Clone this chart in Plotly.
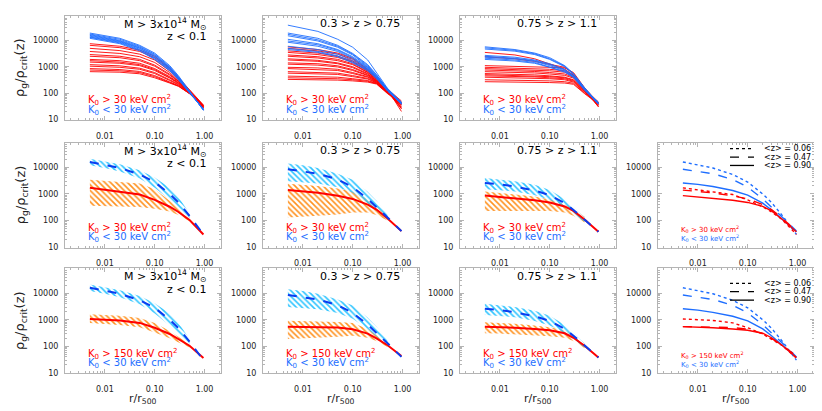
import plotly.graph_objects as go

W, H = 822, 411

R_PROF = [0.005, 0.02, 0.05, 0.1, 0.2, 0.3, 0.5, 0.95]
R_MEAN = [0.005, 0.01, 0.02, 0.05, 0.1, 0.2, 0.3, 0.5, 0.95]
R_BAND = [0.005, 0.01, 0.02, 0.05, 0.1, 0.2, 0.3, 0.5]

# ---- top row: individual cluster profiles ----
LOWZ_COOL = [
    [19000, 12000, 6500, 3300, 1100, 450, 120, 22],
    [17500, 11000, 6000, 3000, 1000, 420, 115, 22],
    [16500, 10000, 5600, 2800, 950, 400, 115, 23],
    [15500, 9500, 5200, 2600, 900, 380, 110, 23],
    [14500, 9000, 5000, 2400, 850, 360, 110, 24],
    [13500, 8500, 4600, 2200, 800, 340, 105, 24],
    [13000, 8000, 4300, 2000, 750, 330, 105, 25],
    [12000, 7500, 4000, 1900, 700, 320, 100, 25],
]
LOWZ_HOT = [
    [7500, 6000, 4300, 2500, 900, 380, 125, 35],
    [6500, 5300, 3800, 2200, 820, 360, 125, 34],
    [5000, 4100, 3000, 1800, 700, 320, 120, 33],
    [3800, 3200, 2400, 1450, 600, 300, 115, 32],
    [2900, 2500, 1900, 1150, 520, 280, 112, 31],
    [2500, 2200, 1700, 1050, 480, 270, 110, 33],
    [1900, 1700, 1350, 850, 420, 250, 108, 32],
    [1700, 1500, 1200, 780, 390, 240, 105, 30],
    [1500, 1350, 1100, 720, 370, 230, 105, 31],
    [1200, 1080, 880, 600, 320, 215, 100, 30],
    [1050, 950, 800, 550, 300, 205, 100, 28],
    [850, 780, 660, 460, 265, 190, 96, 28],
    [750, 700, 600, 420, 250, 185, 95, 30],
    [650, 620, 540, 380, 240, 180, 95, 28],
]
MIDZ_COOL = [
    [38000, 22000, 11000, 5500, 1800, 600, 150, 45],
    [19000, 12000, 6500, 3200, 1200, 500, 140, 45],
    [17000, 10500, 6000, 3000, 1100, 480, 140, 42],
    [15000, 9500, 5500, 2800, 1000, 450, 135, 44],
    [11000, 7500, 4500, 2400, 950, 430, 130, 40],
    [9500, 6800, 4200, 2200, 900, 420, 130, 42],
    [8500, 6000, 3800, 2000, 850, 400, 125, 38],
    [6000, 4500, 3000, 1700, 800, 380, 125, 40],
    [5000, 3800, 2600, 1500, 750, 370, 120, 38],
    [4500, 3500, 2400, 1400, 700, 350, 120, 40],
]
MIDZ_HOT = [
    [5700, 4500, 3300, 2100, 800, 400, 140, 50],
    [5000, 4000, 3000, 1900, 750, 380, 135, 20],
    [4000, 3300, 2500, 1650, 700, 360, 130, 25],
    [3500, 2900, 2250, 1500, 670, 350, 130, 40],
    [2800, 2400, 1900, 1300, 620, 330, 125, 45],
    [2500, 2150, 1700, 1200, 600, 320, 120, 35],
    [2000, 1750, 1400, 1000, 550, 300, 118, 28],
    [1800, 1600, 1300, 920, 520, 295, 115, 40],
    [1400, 1300, 1080, 780, 480, 285, 112, 45],
    [1250, 1150, 980, 720, 460, 280, 110, 30],
    [950, 900, 800, 600, 420, 270, 108, 26],
    [850, 800, 720, 550, 400, 260, 105, 42],
    [650, 620, 570, 460, 360, 250, 102, 40],
    [570, 550, 510, 420, 340, 245, 100, 35],
    [440, 425, 400, 350, 300, 235, 98, 44],
    [380, 370, 350, 320, 280, 230, 98, 36],
    [330, 325, 310, 290, 260, 220, 95, 40],
]
HIGHZ_COOL = [
    [5700, 4500, 3300, 2200, 1100, 550, 160, 40],
    [5200, 4200, 3100, 2000, 1050, 520, 155, 42],
    [4700, 3900, 2900, 1900, 1000, 500, 150, 38],
    [2700, 2300, 1800, 1300, 800, 450, 140, 45],
    [2500, 2100, 1700, 1200, 750, 430, 140, 40],
    [2300, 2000, 1600, 1100, 700, 420, 135, 42],
    [2100, 1800, 1450, 1000, 650, 400, 130, 38],
    [1900, 1650, 1350, 950, 620, 390, 130, 40],
]
HIGHZ_HOT = [
    [3500, 2800, 2000, 1300, 800, 480, 150, 45],
    [2400, 2000, 1600, 1200, 950, 550, 150, 30],
    [1100, 1050, 1000, 950, 900, 600, 160, 40],
    [950, 900, 850, 800, 700, 480, 150, 35],
    [850, 800, 750, 700, 620, 450, 145, 42],
    [750, 710, 660, 600, 530, 400, 140, 32],
    [650, 620, 580, 530, 470, 370, 135, 45],
    [550, 520, 490, 450, 400, 320, 125, 30],
    [500, 475, 450, 420, 380, 300, 120, 40],
    [450, 430, 410, 380, 350, 280, 115, 36],
    [400, 385, 370, 350, 320, 260, 110, 44],
    [320, 315, 305, 290, 270, 235, 100, 40],
    [270, 265, 260, 250, 240, 215, 95, 38],
]

# ---- mean profiles (K0 < 30, shared by middle and bottom rows) ----
COOL_MEAN_LOWZ = [16000, 12500, 9500, 5400, 2800, 1000, 480, 150, 30]
COOL_MEAN_MIDZ = [8500, 7200, 5800, 3500, 1800, 650, 330, 130, 40]
COOL_MEAN_HIGHZ = [2600, 2300, 1900, 1350, 900, 450, 250, 110, 38]
COOL_UP_LOWZ = [21000, 16500, 13000, 7800, 4200, 1700, 750, 190]
COOL_LO_LOWZ = [12000, 9500, 7000, 3800, 1700, 600, 300, 120]
COOL_UP_MIDZ = [14000, 12000, 9500, 5800, 3400, 1200, 550, 170]
COOL_LO_MIDZ = [3000, 2800, 2500, 1800, 1100, 450, 250, 110]
COOL_UP_HIGHZ = [4000, 3500, 3000, 2200, 1400, 650, 330, 130]
COOL_LO_HIGHZ = [1500, 1400, 1250, 900, 600, 320, 190, 90]

# K0 > 30 keV cm^2 (middle row)
HOT30_MEAN_LOWZ = [1700, 1450, 1250, 950, 600, 330, 210, 105, 30]
HOT30_MEAN_MIDZ = [1400, 1250, 1100, 850, 650, 400, 260, 120, 40]
HOT30_MEAN_HIGHZ = [870, 780, 700, 580, 480, 340, 230, 110, 38]
HOT30_UP_LOWZ = [3400, 3000, 2800, 2500, 1500, 550, 280, 130]
HOT30_LO_LOWZ = [360, 350, 340, 320, 280, 220, 160, 95]
HOT30_UP_MIDZ = [2400, 2200, 2000, 1600, 1200, 650, 350, 140]
HOT30_LO_MIDZ = [130, 140, 150, 170, 200, 200, 160, 100]
HOT30_UP_HIGHZ = [1250, 1100, 1000, 800, 620, 420, 280, 140]
HOT30_LO_HIGHZ = [230, 230, 230, 230, 230, 200, 150, 85]

# K0 > 150 keV cm^2 (bottom row)
HOT150_MEAN_LOWZ = [1070, 1000, 940, 760, 500, 290, 190, 105, 36]
HOT150_MEAN_MIDZ = [550, 540, 530, 510, 440, 300, 200, 110, 43]
HOT150_MEAN_HIGHZ = [550, 530, 500, 450, 400, 310, 210, 105, 38]
HOT150_UP_LOWZ = [1600, 1500, 1400, 1150, 750, 380, 230, 120]
HOT150_LO_LOWZ = [750, 700, 640, 520, 330, 200, 140, 90]
HOT150_UP_MIDZ = [920, 900, 870, 820, 750, 450, 260, 125]
HOT150_LO_MIDZ = [190, 200, 210, 230, 250, 210, 160, 95]
HOT150_UP_HIGHZ = [800, 750, 700, 600, 520, 400, 260, 130]
HOT150_LO_HIGHZ = [310, 300, 280, 260, 240, 210, 160, 85]

Z_LABELS = ['&lt;z&gt; = 0.06', '&lt;z&gt; = 0.47', '&lt;z&gt; = 0.90']
X_TICKS = [0.01, 0.1, 1]
X_TICKTEXT = ['0.01', '0.10', '1.00']
Y_TICKS = [10, 100, 1000, 10000]
Y_TICKTEXT = ['10', '100', '1000', '10000']

RED = '#ff0000'
BLUE = '#1e6eff'
DBLUE = '#0a3cf0'
ORANGE = '#ff9220'
CYAN = '#2ec4ff'
FRAME = '#b4b4b4'
FONT = 'DejaVu Sans'

COL_X = [(57, 213), (255, 411), (452, 608), (650, 806)]
ROW_Y = [(8, 113), (136, 242), (263, 369)]
PANELS = [(0, 0), (0, 1), (0, 2), (1, 0), (1, 1), (1, 2), (1, 3),
          (2, 0), (2, 1), (2, 2), (2, 3)]


def px(x):
    return x / W


def py(y):
    return 1 - y / H


fig = go.Figure()
axis_id = {p: i + 1 for i, p in enumerate(PANELS)}


def add_line(panel, x, y, color, width=1, dash='solid'):
    k = axis_id[panel]
    fig.add_trace(go.Scatter(x=x, y=y, mode='lines', line=dict(color=color, width=width, dash=dash),
                             xaxis=f'x{k}', yaxis=f'y{k}', showlegend=False, hoverinfo='skip'))


def add_band(panel, upper, lower, color):
    k = axis_id[panel]
    fig.add_trace(go.Scatter(
        x=R_BAND + R_BAND[::-1], y=upper + lower[::-1], mode='lines', fill='toself',
        fillcolor=color, line=dict(width=0, color='rgba(0,0,0,0)'),
        fillpattern=dict(shape='\\', fgcolor=color, bgcolor='rgba(0,0,0,0)', fgopacity=1,
                         size=4, solidity=0.4),
        xaxis=f'x{k}', yaxis=f'y{k}', showlegend=False, hoverinfo='skip'))


# top row
for col, (hot, cool) in enumerate([(LOWZ_HOT, LOWZ_COOL), (MIDZ_HOT, MIDZ_COOL), (HIGHZ_HOT, HIGHZ_COOL)]):
    for prof in hot:
        add_line((0, col), R_PROF, prof, RED, width=0.9)
    for prof in cool:
        add_line((0, col), R_PROF, prof, BLUE, width=0.9)

cool_means = [COOL_MEAN_LOWZ, COOL_MEAN_MIDZ, COOL_MEAN_HIGHZ]
cool_bands = [(COOL_UP_LOWZ, COOL_LO_LOWZ), (COOL_UP_MIDZ, COOL_LO_MIDZ), (COOL_UP_HIGHZ, COOL_LO_HIGHZ)]
hot_means = {1: [HOT30_MEAN_LOWZ, HOT30_MEAN_MIDZ, HOT30_MEAN_HIGHZ],
             2: [HOT150_MEAN_LOWZ, HOT150_MEAN_MIDZ, HOT150_MEAN_HIGHZ]}
hot_bands = {1: [(HOT30_UP_LOWZ, HOT30_LO_LOWZ), (HOT30_UP_MIDZ, HOT30_LO_MIDZ), (HOT30_UP_HIGHZ, HOT30_LO_HIGHZ)],
             2: [(HOT150_UP_LOWZ, HOT150_LO_LOWZ), (HOT150_UP_MIDZ, HOT150_LO_MIDZ),
                 (HOT150_UP_HIGHZ, HOT150_LO_HIGHZ)]}
styles = ['dot', 'dash', 'solid']

for row in (1, 2):
    for col in range(3):
        add_band((row, col), *hot_bands[row][col], ORANGE)
        add_band((row, col), *cool_bands[col], CYAN)
        add_line((row, col), R_MEAN, hot_means[row][col], RED, width=2)
        add_line((row, col), R_MEAN, cool_means[col], DBLUE, width=2, dash='dash')
    for col in range(3):
        add_line((row, 3), R_MEAN, cool_means[col], BLUE, width=1.4, dash=styles[col])
    for col in range(3):
        add_line((row, 3), R_MEAN, hot_means[row][col], RED, width=1.4, dash=styles[col])

# axes
x_minor = [m * 10 ** e for e in (-3, -2, -1) for m in range(2, 10)] + [2]
y_minor = [m * 10 ** e for e in (1, 2, 3, 4) for m in range(2, 10)]
layout_axes = {}
for (row, col), k in axis_id.items():
    x0, x1 = COL_X[col]
    y0, y1 = ROW_Y[row]
    common = dict(type='log', showline=True, linecolor=FRAME, linewidth=1, mirror='ticks',
                  ticks='inside', ticklen=4, tickwidth=1, tickcolor=FRAME, showgrid=False,
                  zeroline=False, tickmode='array',
                  tickfont=dict(family=FONT, size=8, color='#222'))
    layout_axes[f'xaxis{k}'] = dict(common, domain=[px(x0), px(x1)], range=[-2.8, 0.33],
                                    anchor=f'y{k}', tickvals=X_TICKS, ticktext=X_TICKTEXT,
                                    ticklabelstandoff=8,
                                    minor=dict(ticks='inside', ticklen=2, tickcolor=FRAME,
                                               tickvals=x_minor, showgrid=False))
    layout_axes[f'yaxis{k}'] = dict(common, domain=[py(y1), py(y0)], range=[0.98, 4.93],
                                    anchor=f'x{k}', tickvals=Y_TICKS, ticktext=Y_TICKTEXT,
                                    ticklabelstandoff=4,
                                    minor=dict(ticks='inside', ticklen=2, tickcolor=FRAME,
                                               tickvals=y_minor, showgrid=False))

ann = []
shapes = []
titles = [['M &gt; 3x10<sup>14</sup> M<sub>⊙</sub>', 'z &lt; 0.1'], ['0.3 &gt; z &gt; 0.75'], ['0.75 &gt; z &gt; 1.1']]
for (row, col) in PANELS:
    x0, x1 = COL_X[col]
    y0, y1 = ROW_Y[row]
    if col < 3:
        t = titles[col]
        right = x1 - (13 if col == 0 else 17)
        for i, txt in enumerate(t):
            yy = y0 + 8 + 13 * i
            ann.append(dict(text=txt, x=px(right), y=py(yy), xref='paper', yref='paper',
                            xanchor='right', yanchor='middle', showarrow=False,
                            font=dict(family=FONT, size=11, color='black')))
    k0 = '150' if row == 2 else '30'
    small = col == 3
    fs = 7 if small else 10
    ann.append(dict(text=f'K<sub>0</sub> &gt; {k0} keV cm<sup>2</sup>', x=px(x0 + 21),
                    y=py(y1 - (19 if small else 20)),
                    xref='paper', yref='paper', xanchor='left', yanchor='middle', showarrow=False,
                    font=dict(family=FONT, size=fs, color=RED)))
    ann.append(dict(text='K<sub>0</sub> &lt; 30 keV cm<sup>2</sup>', x=px(x0 + 21),
                    y=py(y1 - (10 if small else 10.5)),
                    xref='paper', yref='paper', xanchor='left', yanchor='middle', showarrow=False,
                    font=dict(family=FONT, size=fs, color=BLUE)))
    if col == 3:
        first = 142 if row == 1 else 278
        for i, (lab, dsh) in enumerate(zip(Z_LABELS, styles)):
            yy = first + 8.5 * i
            shapes.append(dict(type='line', xref='paper', yref='paper', x0=px(722), x1=px(746),
                               y0=py(yy), y1=py(yy), line=dict(color='black', width=1.3, dash=dsh)))
            ann.append(dict(text=lab, x=px(754), y=py(yy), xref='paper', yref='paper',
                            xanchor='left', yanchor='middle', showarrow=False,
                            font=dict(family=FONT, size=8, color='black')))
    if col == 0:
        ann.append(dict(text='ρ<sub>g</sub>/ρ<sub>crit</sub>(z)', x=px(13), y=py((y0 + y1) / 2),
                        xref='paper', yref='paper', xanchor='center', yanchor='middle',
                        textangle=-90, showarrow=False, font=dict(family=FONT, size=13, color='#222')))
    if row == 2:
        ann.append(dict(text='r/r<sub>500</sub>', x=px((x0 + x1) / 2), y=py(395), xref='paper',
                        yref='paper', xanchor='center', yanchor='middle', showarrow=False,
                        font=dict(family=FONT, size=11, color='#222')))

fig.update_layout(width=W, height=H, margin=dict(l=0, r=0, t=0, b=0),
                  paper_bgcolor='white', plot_bgcolor='white', showlegend=False,
                  annotations=ann, shapes=shapes, **layout_axes)

fig.write_html("out.html")
